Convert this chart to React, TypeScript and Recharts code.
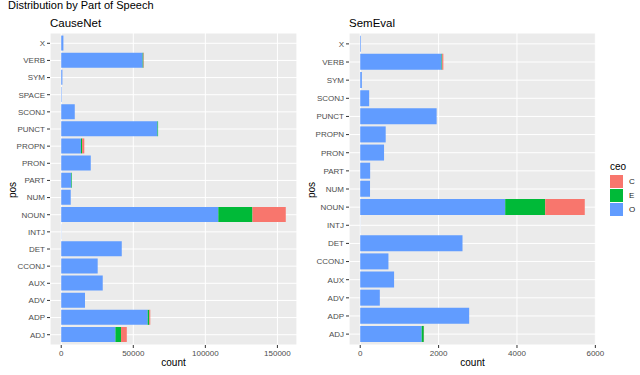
import React from 'react';
import { BarChart, Bar, XAxis, YAxis, CartesianGrid } from 'recharts';

// CauseNet counts per part of speech (top to bottom as drawn)
const causeNetPos = ['X', 'VERB', 'SYM', 'SPACE', 'SCONJ', 'PUNCT', 'PROPN', 'PRON', 'PART', 'NUM', 'NOUN', 'INTJ', 'DET', 'CCONJ', 'AUX', 'ADV', 'ADP', 'ADJ'];
const causeNetO = [1500, 56500, 800, 300, 9400, 66800, 13700, 20500, 7000, 6600, 109000, 100, 42000, 25300, 28800, 16500, 60000, 37600];
const causeNetE = [0, 500, 0, 0, 0, 400, 800, 0, 400, 0, 23700, 0, 0, 0, 0, 0, 1100, 3900];
const causeNetC = [0, 300, 0, 0, 0, 0, 1500, 0, 0, 0, 23100, 0, 0, 0, 0, 0, 700, 4000];
const causeNetTicks = [0, 50000, 100000, 150000];
const causeNetMinor = [25000, 75000, 125000];

// SemEval counts per part of speech
const semEvalPos = ['X', 'VERB', 'SYM', 'SCONJ', 'PUNCT', 'PROPN', 'PRON', 'PART', 'NUM', 'NOUN', 'INTJ', 'DET', 'CCONJ', 'AUX', 'ADV', 'ADP', 'ADJ'];
const semEvalO = [17, 2076, 42, 228, 1950, 650, 608, 253, 250, 3700, 2, 2610, 720, 864, 500, 2780, 1568];
const semEvalE = [0, 15, 0, 0, 0, 0, 0, 0, 0, 1020, 0, 0, 0, 0, 0, 0, 55];
const semEvalC = [0, 30, 0, 0, 0, 0, 0, 0, 0, 1010, 0, 0, 0, 0, 0, 0, 5];
const semEvalTicks = [0, 2000, 4000, 6000];
const semEvalMinor = [1000, 3000, 5000];

const legendLevels = ['C', 'E', 'O'];
const COLORS: Record<string, string> = { C: '#F8766D', E: '#00BA38', O: '#619CFF' };

const FONT = '"Liberation Sans", Arial, sans-serif';
const PANEL_TOP = 33;
const PANEL_BOTTOM = 345;
const H = 375;

const toRows = (pos: string[], o: number[], e: number[], c: number[]) =>
    pos.map((p, i) => ({ pos: p, O: o[i], E: e[i], C: c[i] }));

interface PanelProps {
    rows: { pos: string; O: number; E: number; C: number }[];
    ticks: number[];
    minor: number[];
    left: number;
    plotLeft: number;
    plotRight: number;
}

const Panel: React.FC<PanelProps> = ({ rows, ticks, minor, left, plotLeft, plotRight }) => {
    const max = Math.max(...rows.map((r) => r.O + r.E + r.C));
    const domain: [number, number] = [-0.05 * max, 1.05 * max];
    const panelH = PANEL_BOTTOM - PANEL_TOP;
    const pad = (0.1 * panelH) / (rows.length + 0.2);
    const yWidth = 40;
    const rightRoom = 20;
    const width = plotRight - left + rightRoom;
    const tickStyle = { fontSize: 8, fill: '#4D4D4D', fontFamily: FONT };

    return (
        <div style={{ position: 'absolute', left, top: 0 }}>
            <BarChart
                width={width}
                height={H}
                data={rows}
                layout="vertical"
                barCategoryGap="5%"
                margin={{ top: PANEL_TOP, right: rightRoom, bottom: 0, left: plotLeft - left - yWidth }}
            >
                <CartesianGrid fill="#EBEBEB" stroke="#FFFFFF" strokeWidth={1} />
                <CartesianGrid xAxisId="minor" horizontal={false} stroke="#FFFFFF" strokeWidth={0.5} />
                <XAxis
                    type="number"
                    domain={domain}
                    ticks={ticks}
                    interval={0}
                    axisLine={false}
                    tickSize={3}
                    tickMargin={2}
                    tickLine={{ stroke: '#333333' }}
                    tick={tickStyle}
                    height={30}
                />
                <XAxis xAxisId="minor" type="number" domain={domain} ticks={minor} hide />
                <YAxis
                    type="category"
                    dataKey="pos"
                    width={yWidth}
                    interval={0}
                    axisLine={false}
                    tickSize={3}
                    tickMargin={2}
                    tickLine={{ stroke: '#333333' }}
                    tick={tickStyle}
                    padding={{ top: pad, bottom: pad }}
                />
                <Bar dataKey="O" stackId="s" fill={COLORS.O} isAnimationActive={false} />
                <Bar dataKey="E" stackId="s" fill={COLORS.E} isAnimationActive={false} />
                <Bar dataKey="C" stackId="s" fill={COLORS.C} isAnimationActive={false} />
            </BarChart>
        </div>
    );
};

const text = (s: string, style: React.CSSProperties) => (
    <div style={{ position: 'absolute', fontFamily: FONT, whiteSpace: 'nowrap', ...style }}>{s}</div>
);

export default function App() {
    const causeNet = toRows(causeNetPos, causeNetO, causeNetE, causeNetC);
    const semEval = toRows(semEvalPos, semEvalO, semEvalE, semEvalC);

    return (
        <div style={{ position: 'absolute', left: 0, top: 0, width: 640, height: H, background: '#FFFFFF', overflow: 'hidden' }}>
            <Panel rows={causeNet} ticks={causeNetTicks} minor={causeNetMinor} left={0} plotLeft={50} plotRight={297} />
            <Panel rows={semEval} ticks={semEvalTicks} minor={semEvalMinor} left={300} plotLeft={349} plotRight={596} />

            {text('Distribution by Part of Speech', { left: 8, top: 0, fontSize: 11, lineHeight: '11px', color: '#000' })}
            {text('CauseNet', { left: 50, top: 18, fontSize: 11.5, lineHeight: '11px', color: '#000' })}
            {text('SemEval', { left: 349, top: 18, fontSize: 11.5, lineHeight: '11px', color: '#000' })}

            {text('count', { left: 173.5, top: 357, fontSize: 10, lineHeight: '12px', color: '#000', transform: 'translateX(-50%)' })}
            {text('count', { left: 472.5, top: 357, fontSize: 10, lineHeight: '12px', color: '#000', transform: 'translateX(-50%)' })}
            {text('pos', { left: 13, top: 190, fontSize: 10, lineHeight: '12px', color: '#000', transform: 'translate(-50%, -50%) rotate(-90deg)' })}
            {text('pos', { left: 312, top: 190, fontSize: 10, lineHeight: '12px', color: '#000', transform: 'translate(-50%, -50%) rotate(-90deg)' })}

            {text('ceo', { left: 610, top: 161, fontSize: 10, lineHeight: '12px', color: '#000' })}
            {legendLevels.map((k, i) => (
                <div key={k}>
                    <div style={{ position: 'absolute', left: 610, top: 175 + i * 14, width: 13, height: 13, background: COLORS[k] }} />
                    {text(k, { left: 629, top: 175 + i * 14, fontSize: 8, lineHeight: '13px', color: '#1A1A1A' })}
                </div>
            ))}
        </div>
    );
}
